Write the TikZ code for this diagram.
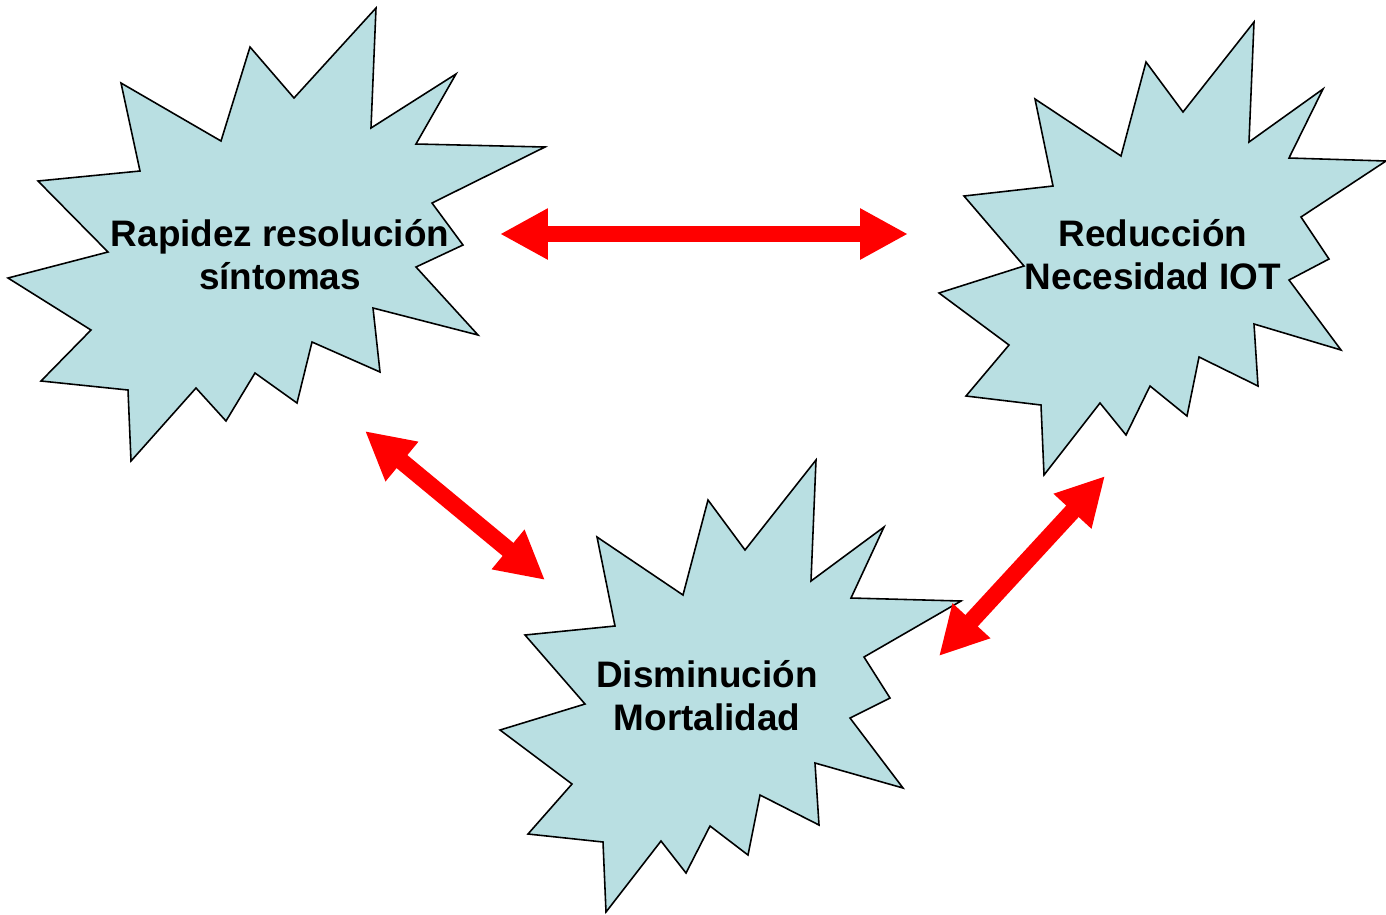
\documentclass[tikz,border=0pt]{standalone}
\usepackage{fontspec}
\setmainfont{Liberation Sans}
\usepackage{xcolor}
\definecolor{burstfill}{HTML}{B9DFE2}
\definecolor{arrowred}{HTML}{FF0000}
\usetikzlibrary{arrows.meta}
\tikzset{
  burst/.style ={draw=black,fill=burstfill,line width=0.9pt,line join=miter},
  lbl/.style   ={font=\fontsize{21}{24.5}\selectfont\bfseries,align=center,inner sep=0pt},
  link/.style  ={draw=arrowred,line width=9.6pt,
                 {Triangle[length=0.96cm,width=0.96cm]}-{Triangle[length=0.96cm,width=0.96cm]}},
}

\begin{document}
\begin{tikzpicture}[x=0.02cm,y=-0.02cm]
\useasboundingbox (0,0) rectangle (1386,914);
% bursts
\draw[burst] (376,8) -- (371,128) -- (456,74) -- (416,144) -- (545,147) -- (432,203)
 -- (463,245) -- (416,267) -- (478,335) -- (373,308) -- (380,372) -- (312,342)
 -- (297,403) -- (255,373) -- (226,421) -- (196,388) -- (131,461) -- (128,390)
 -- (41,381) -- (91,330) -- (8,278) -- (108,252) -- (38,181) -- (140,171)
 -- (121,83) -- (221,141) -- (250,47) -- (294,98) -- cycle;
\draw[burst] (1254,22) -- (1249,142) -- (1323,89) -- (1289,158) -- (1386,161) -- (1301,217)
 -- (1329,259) -- (1289,280) -- (1341,350) -- (1254,324) -- (1258,386) -- (1199,357)
 -- (1187,416) -- (1150,386) -- (1126,435) -- (1100,403) -- (1044,475) -- (1041,405)
 -- (966,396) -- (1009,345) -- (939,293) -- (1024,266) -- (964,196) -- (1053,186)
 -- (1035,99) -- (1121,156) -- (1146,62) -- (1183,112) -- cycle;
\draw[burst] (816,460) -- (811,581) -- (884,527) -- (851,598) -- (961,601) -- (864,657)
 -- (890,698) -- (850,718) -- (903,788) -- (815,763) -- (819,825) -- (760,795)
 -- (748,855) -- (710,826) -- (686,873) -- (661,841) -- (606,912) -- (603,842)
 -- (528,834) -- (572,784) -- (500,730) -- (585,704) -- (525,635) -- (615,626)
 -- (597,537) -- (683,595) -- (708,500) -- (745,550) -- cycle;
% texts
\node[lbl] (rapidez)  at (280,255) {Rapidez resolución\\síntomas};
\node[lbl] (reduccion) at (1153,255) {Reducción\\Necesidad IOT};
\node[lbl] (mortal)   at (707,696) {Disminución\\Mortalidad};
% arrow ends
\coordinate (rap-r) at (500,234);
\coordinate (red-l) at (908,234);
\coordinate (rap-b) at (365,431);
\coordinate (mor-l) at (545,580);
\coordinate (red-b) at (1105,476);
\coordinate (mor-r) at (939,656);
\draw[link] (rap-r) -- (red-l);
\draw[link] (rap-b) -- (mor-l);
\draw[link] (red-b) -- (mor-r);
\end{tikzpicture}
\end{document}
